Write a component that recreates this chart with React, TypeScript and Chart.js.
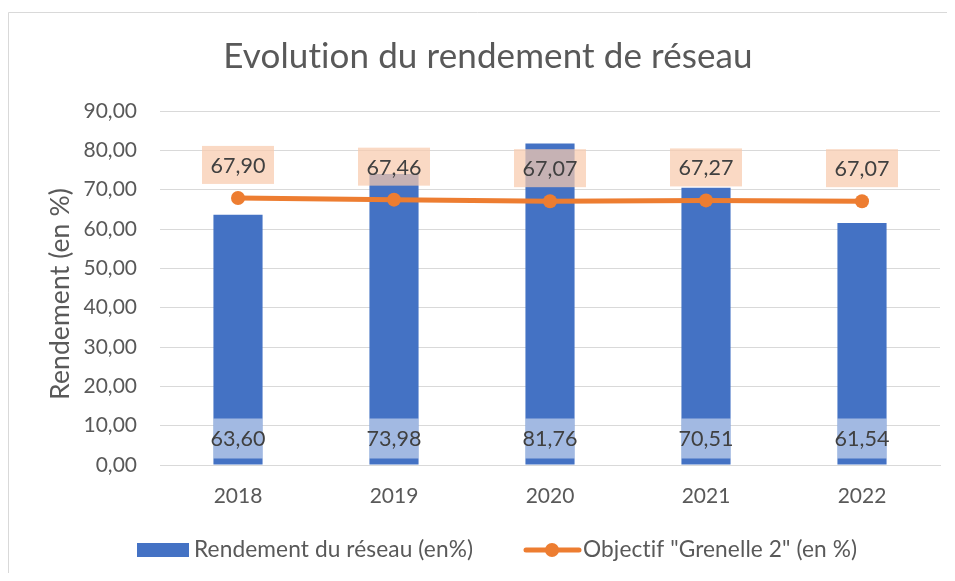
import React, { useEffect, useRef } from "react";
import { Chart, registerables } from "chart.js";

Chart.register(...registerables);

const years = ["2018", "2019", "2020", "2021", "2022"];
const rendement = [63.6, 73.98, 81.76, 70.51, 61.54];
const objectif = [67.9, 67.46, 67.07, 67.27, 67.07];
const yTicksMin = 0;
const yTicksMax = 90;
const yTicksStep = 10;

const TITLE = "Evolution du rendement de réseau";
const Y_TITLE = "Rendement (en %)";
const LEGEND_BAR = "Rendement du réseau (en%)";
const LEGEND_LINE = 'Objectif "Grenelle 2" (en %)';

const FONT = "Lato, 'Open Sans', sans-serif";
const TEXT = "#595959";
const LABEL_TEXT = "#404040";
const BLUE = "#4472C4";
const ORANGE = "#ED7D31";
const GRID = "#D9D9D9";

const fmt = (v: number) => v.toFixed(2).replace(".", ",");

const decorPlugin = {
  id: "decor",
  beforeDraw(chart: any) {
    const { ctx, width } = chart;
    ctx.save();
    ctx.fillStyle = "#ffffff";
    ctx.fillRect(0, 0, chart.width, chart.height);
    ctx.strokeStyle = GRID;
    ctx.lineWidth = 1;
    ctx.beginPath();
    ctx.moveTo(0.5, chart.height);
    ctx.lineTo(0.5, 4.5);
    ctx.lineTo(width, 4.5);
    ctx.stroke();
    ctx.restore();
  },
  afterDatasetsDraw(chart: any) {
    const { ctx } = chart;
    ctx.save();
    ctx.font = `21.5px ${FONT}`;
    ctx.textAlign = "center";
    ctx.textBaseline = "middle";
    // bar labels
    const barMeta = chart.getDatasetMeta(1);
    barMeta.data.forEach((bar: any, i: number) => {
      const w = bar.width;
      const base = bar.base;
      ctx.fillStyle = "rgba(255,255,255,0.5)";
      ctx.fillRect(bar.x - w / 2, base - 46, w, 40);
      ctx.fillStyle = LABEL_TEXT;
      ctx.fillText(fmt(rendement[i]), bar.x, base - 25);
    });
    // line labels
    const lineMeta = chart.getDatasetMeta(0);
    lineMeta.data.forEach((pt: any, i: number) => {
      ctx.fillStyle = "rgba(248,203,173,0.72)";
      ctx.fillRect(pt.x - 36, pt.y - 52, 72, 38);
      ctx.fillStyle = LABEL_TEXT;
      ctx.fillText(fmt(objectif[i]), pt.x, pt.y - 32);
    });
    ctx.restore();
  },
  afterDraw(chart: any) {
    const { ctx } = chart;
    ctx.save();
    try {
      (ctx as any).letterSpacing = "0.1px";
    } catch (e) {}
    // title
    ctx.fillStyle = TEXT;
    ctx.font = `35px ${FONT}`;
    ctx.textAlign = "center";
    ctx.textBaseline = "alphabetic";
    ctx.fillText(TITLE, 480, 60);
    // y axis title
    ctx.save();
    ctx.translate(61, 286);
    ctx.rotate(-Math.PI / 2);
    ctx.font = `26.5px ${FONT}`;
    ctx.textAlign = "center";
    ctx.textBaseline = "alphabetic";
    ctx.fillText(Y_TITLE, 0, 0);
    ctx.restore();
    // legend
    const ly = 542;
    ctx.fillStyle = BLUE;
    ctx.fillRect(129, 535, 52, 14);
    ctx.fillStyle = TEXT;
    ctx.font = `22.7px ${FONT}`;
    ctx.textAlign = "left";
    ctx.textBaseline = "alphabetic";
    ctx.fillText(LEGEND_BAR, 186, 549);
    ctx.strokeStyle = ORANGE;
    ctx.lineWidth = 5;
    ctx.lineCap = "round";
    ctx.beginPath();
    ctx.moveTo(518, ly);
    ctx.lineTo(571, ly);
    ctx.stroke();
    ctx.fillStyle = ORANGE;
    ctx.beginPath();
    ctx.arc(544, ly, 7, 0, Math.PI * 2);
    ctx.fill();
    ctx.fillStyle = TEXT;
    ctx.fillText(LEGEND_LINE, 575, 549);
    ctx.restore();
  },
};

export default function App() {
  const ref = useRef<HTMLCanvasElement | null>(null);
  useEffect(() => {
    if (!ref.current) return;
    const chart = new Chart(ref.current, {
      type: "bar",
      data: {
        labels: years,
        datasets: [
          {
            type: "line",
            label: LEGEND_LINE,
            data: objectif,
            borderColor: ORANGE,
            backgroundColor: ORANGE,
            borderWidth: 5,
            pointRadius: 7,
            pointHoverRadius: 7,
            pointBorderWidth: 0,
            pointBackgroundColor: ORANGE,
            tension: 0,
          } as any,
          {
            type: "bar",
            label: LEGEND_BAR,
            data: rendement,
            backgroundColor: BLUE,
            categoryPercentage: 1,
            barPercentage: 0.315,
          },
        ],
      },
      plugins: [decorPlugin],
      options: {
        responsive: false,
        animation: false,
        layout: { padding: { left: 0, top: 103, right: 7, bottom: 58 } },
        plugins: {
          legend: { display: false },
          title: { display: false },
          tooltip: { enabled: false },
        },
        scales: {
          x: {
            grid: { display: false, drawTicks: false },
            border: { display: true, color: GRID, width: 1 },
            ticks: { color: TEXT, font: { family: FONT, size: 21 }, padding: 19 },
            afterFit: (s: any) => {
              s.height = 50;
            },
          },
          y: {
            min: yTicksMin,
            max: yTicksMax,
            grid: { color: GRID, lineWidth: 1, drawTicks: false },
            border: { display: false },
            ticks: {
              stepSize: yTicksStep,
              color: TEXT,
              font: { family: FONT, size: 21 },
              padding: 23,
              callback: (v: any) => fmt(Number(v)),
            },
            afterFit: (s: any) => {
              s.width = 152;
            },
          },
        },
      },
    });
    return () => chart.destroy();
  }, []);
  return <canvas ref={ref} width={939} height={565} style={{ display: "block" }} />;
}
